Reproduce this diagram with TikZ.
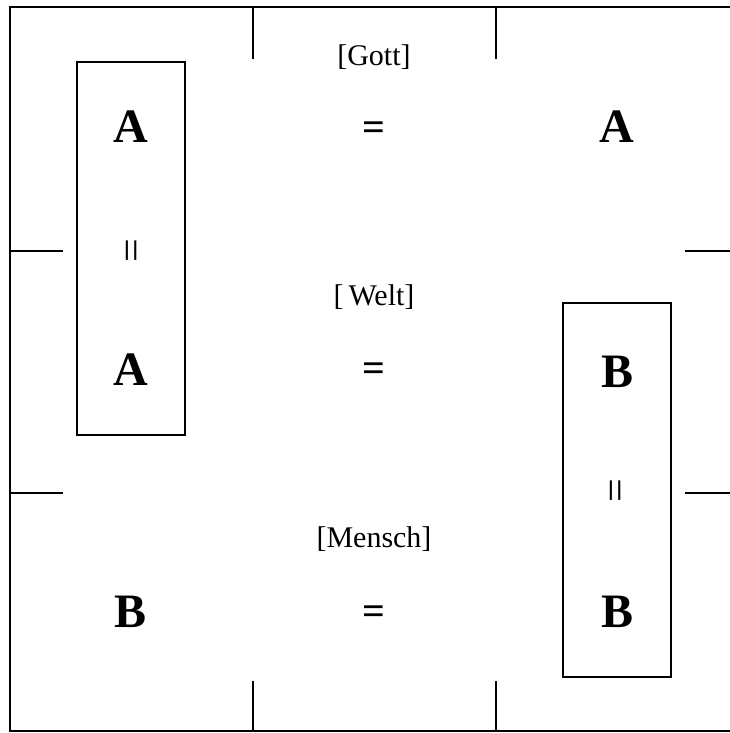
\documentclass[tikz,border=0pt]{standalone}
\usepackage{fontspec}
\setmainfont{Liberation Serif}
\begin{document}
\begin{tikzpicture}[x=1pt,y=-1pt,line width=1.8pt,
  big/.style={font=\fontsize{48}{48}\selectfont\bfseries,inner sep=0pt},
  eqsign/.style={font=\fontsize{40}{40}\selectfont\bfseries,inner sep=0pt,anchor=base},
  veq/.style={font=\fontsize{42}{42}\selectfont,rotate=90,inner sep=0pt},
  lab/.style={font=\fontsize{30}{30}\selectfont,inner sep=0pt},
  frame/.style={draw,line width=1.8pt,inner sep=0pt}]
\useasboundingbox (0,0) rectangle (729,733);
% outer frame (open at the right)
\coordinate (tl) at (10,7);
\coordinate (tr) at (731,7);
\coordinate (bl) at (10,731);
\coordinate (br) at (731,731);
\draw (tr) -- (tl) -- (bl) -- (br);
% ticks
\coordinate (t1) at (253,7);   \coordinate (t1e) at (253,59);
\coordinate (t2) at (496,7);   \coordinate (t2e) at (496,59);
\coordinate (b1) at (253,731); \coordinate (b1e) at (253,681);
\coordinate (b2) at (496,731); \coordinate (b2e) at (496,681);
\coordinate (l1) at (10,251);  \coordinate (l1e) at (63,251);
\coordinate (l2) at (10,493);  \coordinate (l2e) at (63,493);
\coordinate (r1) at (731,251); \coordinate (r1e) at (685,251);
\coordinate (r2) at (731,493); \coordinate (r2e) at (685,493);
\draw (t1) -- (t1e) (t2) -- (t2e) (b1) -- (b1e) (b2) -- (b2e)
      (l1) -- (l1e) (l2) -- (l2e) (r1) -- (r1e) (r2) -- (r2e);
% boxes
\node[frame,minimum width=108pt,minimum height=373pt] (boxL) at (131,248.5) {};
\node[frame,minimum width=108pt,minimum height=374pt] (boxR) at (617,490) {};
% labels
\node[lab] (gott) at (374,57) {[Gott]};
\node[lab] (welt) at (374,297) {[\,Welt]};
\node[lab] (mensch) at (374,539) {[Mensch]};
% top row
\node[big] (a1) at (131,127) {A};
\node[eqsign] (e1) at (374,140) {=};
\node[big] (a2) at (617,127) {A};
% middle row
\node[big] (a3) at (131,370) {A};
\node[eqsign] (e2) at (374,381) {=};
\node[big] (b1n) at (617,372) {B};
% bottom row
\node[big] (b2n) at (131,612) {B};
\node[eqsign] (e3) at (374,624) {=};
\node[big] (b3n) at (617,612) {B};
% vertical equals
\node[veq] (v1) at (136,251) {=};
\node[veq] (v2) at (620,491) {=};
\end{tikzpicture}
\end{document}
